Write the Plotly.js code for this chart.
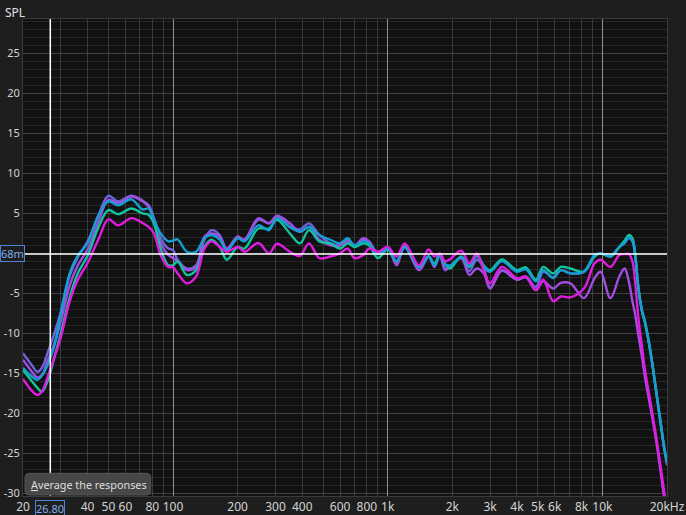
<!DOCTYPE html>
<html>
<head>
<meta charset="utf-8">
<script src="https://cdn.plot.ly/plotly-3.0.1.min.js"></script>
<style>
  html, body { margin: 0; padding: 0; background: #1e1e1e; }
  #chart { width: 686px; height: 515px; }
</style>
</head>
<body>
<div id="chart"></div>
<script>
// Frequencies (Hz) shared by all responses
const freqHz = [20,22,23.3,24.5,26,28,30,33,36,40,
  45,50,55.5,64,72,77,81.5,87.5,95,100,
  105,116,128,140,151,165,178,200,215,250,
  280,305,350,390,430,480,540,600,650,700,
  770,820,900,1000,1100,1200,1400,1550,1650,1750,
  1850,1950,2200,2400,2600,2800,3000,3400,4000,4400,
  4900,5300,5900,6400,7100,8200,9200,9800,10900,12000,
  12700,13300,13800,14200,14700,15300,15800,16800,17700,18600,
  19500,20000];

// SPL (dB) of each measurement
const splSlateBlue = [-12.5,-14.0,-14.8,-14.3,-12.5,-10.0,-7.3,-2.8,-0.5,1.5,
  4.8,7.2,6.5,7.2,6.6,6.0,4.4,1.9,0.6,0.4,
  -0.8,-1.9,-1.5,1.7,2.9,2.3,0.4,1.9,1.7,4.2,
  3.75,4.6,3.3,3.0,3.75,2.3,1.25,1.0,1.7,0.8,
  1.7,1.25,0,0.6,-1.25,0.8,-2.1,-0.4,-1.5,-0.2,
  -1.9,-1.6,-0.6,-2.2,-0.8,-1.8,-4.3,-2.2,-3.3,-2.9,
  -4.2,-2.3,-3.0,-2.1,-2.5,-2.3,-0.3,0,-0.4,0.8,
  1.3,1.9,1.5,-0.2,-4.3,-7.3,-8.7,-12.6,-16.8,-21.0,
  -24.8,-26.5];

const splPurple = [-13.3,-14.8,-15.5,-15.2,-13.5,-11.3,-8.5,-4.0,-1.5,0.5,
  4.0,6.7,6.3,7.1,6.5,5.8,4.0,1.25,-0.2,-0.6,
  -1.0,-2.1,-1.7,2.1,2.5,2.1,0.6,2.1,1.7,4.4,
  3.75,4.7,3.75,2.7,3.3,1.7,1.0,1.0,1.5,1.0,
  1.9,1.5,0,0.75,-1.5,1.0,-2.1,-0.4,-1.7,-0.2,
  -2.1,-1.7,-0.6,-2.7,-1.9,-2.5,-4.4,-2.1,-3.3,-3.0,
  -4.6,-3.5,-4.4,-3.7,-3.75,-5.6,-3.1,-2.3,-5.6,-2.9,
  -1.9,-3.6,-6.0,-7.6,-10.2,-13.0,-15.5,-19.5,-23.0,-27.0,
  -31.0,-33.0];

const splGreen = [-14.6,-16.0,-16.8,-17.3,-16.0,-13.0,-10.0,-5.5,-2.5,-0.3,
  3.3,5.4,4.9,5.6,5.0,4.8,3.75,0.6,-1.5,-1.5,
  -1.0,-2.7,-2.1,0.8,1.7,0.8,-0.8,0.8,0.6,3.1,
  3.1,4.2,2.5,1.25,2.9,1.5,1.25,0.6,1.25,0.8,
  1.25,1.0,-0.6,0.5,-1.0,0.8,-1.7,-0.4,-1.3,-0.1,
  -1.3,-1.9,-0.4,-1.7,-0.2,-1.5,-2.1,-0.75,-2.1,-1.75,
  -3.3,-1.7,-2.5,-1.7,-1.9,-2.3,-0.4,0,-0.4,0.8,
  1.6,2.3,1.9,0.0,-4.2,-7.2,-8.6,-12.5,-16.7,-20.8,
  -24.6,-26.0];

const splCyan = [-14.3,-15.4,-15.8,-15.3,-14.0,-11.5,-7.5,-2.5,-0.3,1.3,
  4.8,6.5,6.0,6.75,5.5,5.6,4.2,2.5,1.5,1.6,
  1.75,0.2,0.2,1.9,2.3,1.7,0.4,1.9,1.5,3.5,
  2.9,4.4,3.3,2.7,3.3,2.3,1.7,1.25,1.9,1.0,
  1.5,1.25,-0.1,0.6,-1.0,0.75,-1.75,-0.4,-1.5,-0.1,
  -1.4,-1.5,-0.5,-1.5,-0.33,-1.7,-2.3,-1.0,-2.3,-2.0,
  -3.5,-2.1,-3.1,-2.1,-2.5,-2.3,-0.2,0,-0.33,0.8,
  1.3,2.0,1.6,0.0,-4.2,-7.2,-8.6,-12.5,-16.7,-20.8,
  -24.6,-26.0];

const splMagenta = [-15.7,-17.2,-17.7,-17.3,-15.5,-13.0,-10.5,-6.0,-3.3,-1.2,
  1.8,4.25,3.5,4.4,3.8,3.3,2.5,-0.2,-1.7,-1.75,
  -2.5,-3.75,-2.9,0.6,1.5,0.8,0.2,0.8,0.2,1.3,
  0,1.2,0.2,-0.33,1.25,-0.6,-0.4,0,0.6,-0.6,
  -0.2,0.6,0.2,0.8,-0.4,1.25,-1.5,0.5,-0.4,0,
  -1.0,-0.75,0.33,-1.25,0,-2.1,-3.75,-1.7,-3.1,-2.9,
  -4.6,-3.3,-6.0,-5.4,-5.5,-4.4,-1.25,-0.8,-1.7,-0.2,
  -0.1,-0.1,-1.0,-3.5,-8.0,-11.7,-14.6,-18.8,-22.5,-26.3,
  -30.2,-32.0];

// Axis ticks
const xGridHz = [20,30,40,50,60,70,80,90,100,200,300,400,500,600,700,800,900,
  1000,2000,3000,4000,5000,6000,7000,8000,9000,10000,20000];
const xGridText = ['20','','40','50','60','','80','','100','200','300','400','','600','','800','',
  '1k','2k','3k','4k','5k','6k','','8k','','10k','20kHz'];
const decadeHz = [100, 1000, 10000];
const yTickVals = [-30,-25,-20,-15,-10,-5,0,5,10,15,20,25];
const yTickText = ['-30','-25','-20','-15','-10','-5','','5','10','15','20','25'];

const cursorHz = 26.8;
const cursorDb = -0.07;

const series = [
  {name: 'Meas 1', y: splSlateBlue, color: '#6d64dc'},
  {name: 'Meas 2', y: splPurple, color: '#a24de2'},
  {name: 'Meas 3', y: splGreen, color: '#12c49c'},
  {name: 'Meas 4', y: splCyan, color: '#139fd2'},
  {name: 'Meas 5', y: splMagenta, color: '#e01ce0'}
];

// invisible carrier for the decade grid axis (x2), drawn first
const traces = [{
  type: 'scatter', mode: 'markers', x: decadeHz, y: decadeHz.map(() => null),
  xaxis: 'x2', yaxis: 'y', marker: {opacity: 0}, hoverinfo: 'skip', showlegend: false
}].concat(series.map(s => ({
  type: 'scatter', mode: 'lines', name: s.name,
  x: freqHz, y: s.y,
  line: {color: s.color, width: 2.4, shape: 'spline', smoothing: 1},
  hoverinfo: 'skip'
})));

// plot area in pixels: left 23, right 667, top 19, bottom 496
const L = 23, R = 667, T = 19, B = 496;
const xMinHz = 20, xMaxHz = 20000;
const px = v => (v - L) / (R - L);
const py = v => (B - v) / (B - T);
const fx = f => Math.log10(f / xMinHz) / Math.log10(xMaxHz / xMinHz); // paper x of a frequency

function roundRect(x0, y0, x1, y1, r) {
  const rx = r / (R - L), ry = r / (B - T);
  const a = px(x0), b = px(x1), top = py(y0), bot = py(y1);
  return `M ${a + rx} ${top} L ${b - rx} ${top} Q ${b} ${top} ${b} ${top - ry} ` +
    `L ${b} ${bot + ry} Q ${b} ${bot} ${b - rx} ${bot} L ${a + rx} ${bot} ` +
    `Q ${a} ${bot} ${a} ${bot + ry} L ${a} ${top - ry} Q ${a} ${top} ${a + rx} ${top} Z`;
}

const font = '"Noto Sans", "Open Sans", sans-serif';
const xRange = [Math.log10(xMinHz), Math.log10(xMaxHz)];

const layout = {
  width: 686, height: 515,
  margin: {l: L, r: 686 - R, t: T, b: 515 - B, pad: 0},
  paper_bgcolor: '#1e1e1e',
  plot_bgcolor: '#111111',
  showlegend: false,
  font: {family: font, color: '#d4d4d4', size: 12},
  xaxis: {
    type: 'log', range: xRange,
    tickmode: 'array', tickvals: xGridHz, ticktext: xGridText,
    tickangle: 0,
    tickfont: {size: 12, color: '#d4d4d4', family: font},
    gridcolor: '#3a3a3a', gridwidth: 1,
    showline: true, linecolor: '#3a3a3a', mirror: true,
    zeroline: false, ticks: '', fixedrange: true
  },
  xaxis2: {
    type: 'log', range: xRange, overlaying: 'x', anchor: 'y', side: 'bottom',
    tickmode: 'array', tickvals: decadeHz, showticklabels: false,
    gridcolor: '#8e8e8e', gridwidth: 1, showgrid: true,
    showline: false, zeroline: false, ticks: '', fixedrange: true
  },
  yaxis: {
    range: [-30.34, 29.3],
    tickmode: 'array', tickvals: yTickVals, ticktext: yTickText,
    tickfont: {size: 11, color: '#d4d4d4', family: font},
    gridcolor: '#424242', gridwidth: 1,
    minor: {tickmode: 'linear', tick0: 0, dtick: 1, showgrid: true, gridcolor: '#272727', gridwidth: 1, ticks: ''},
    showline: true, linecolor: '#3a3a3a', mirror: true,
    zeroline: false, ticks: '', fixedrange: true
  },
  shapes: [
    {type: 'line', xref: 'paper', yref: 'paper', x0: fx(cursorHz), x1: fx(cursorHz), y0: 0, y1: 1,
      line: {color: '#ffffff', width: 1.5}, layer: 'above'},
    {type: 'line', xref: 'paper', yref: 'y', x0: 0, x1: 1, y0: cursorDb, y1: cursorDb,
      line: {color: '#ffffff', width: 1.5}, layer: 'above'},
    {type: 'path', xref: 'paper', yref: 'paper', path: roundRect(25, 473.3, 150.7, 495, 4),
      fillcolor: '#474747', line: {color: '#555555', width: 1}, layer: 'above'}
  ],
  annotations: [
    {xref: 'paper', yref: 'paper', x: px(2.5), y: py(2.5), xanchor: 'left', yanchor: 'top',
      text: 'SPL', showarrow: false, font: {size: 12, color: '#e0e0e0', family: font}},
    {xref: 'paper', yref: 'paper', x: px(28.5), y: py(484.5), xanchor: 'left', yanchor: 'middle',
      text: '<u>A</u>verage the responses', showarrow: false, font: {size: 10.8, color: '#dedede', family: font}},
    {xref: 'paper', yref: 'y', x: px(0), y: cursorDb, xanchor: 'left', yanchor: 'middle',
      text: '68m', showarrow: false, bgcolor: '#1e1e1e', bordercolor: '#4a84d6', borderwidth: 1, borderpad: 0,
      font: {size: 11, color: '#7eb0f2', family: font}},
    {xref: 'paper', yref: 'paper', x: fx(cursorHz), y: py(499.5), xanchor: 'center', yanchor: 'top',
      text: '26.80', showarrow: false, bgcolor: '#1e1e1e', bordercolor: '#4a84d6', borderwidth: 1, borderpad: 0,
      font: {size: 11, color: '#7eb0f2', family: font}}
  ]
};

Plotly.newPlot('chart', traces, layout, {displayModeBar: false, staticPlot: true});
</script>
</body>
</html>
